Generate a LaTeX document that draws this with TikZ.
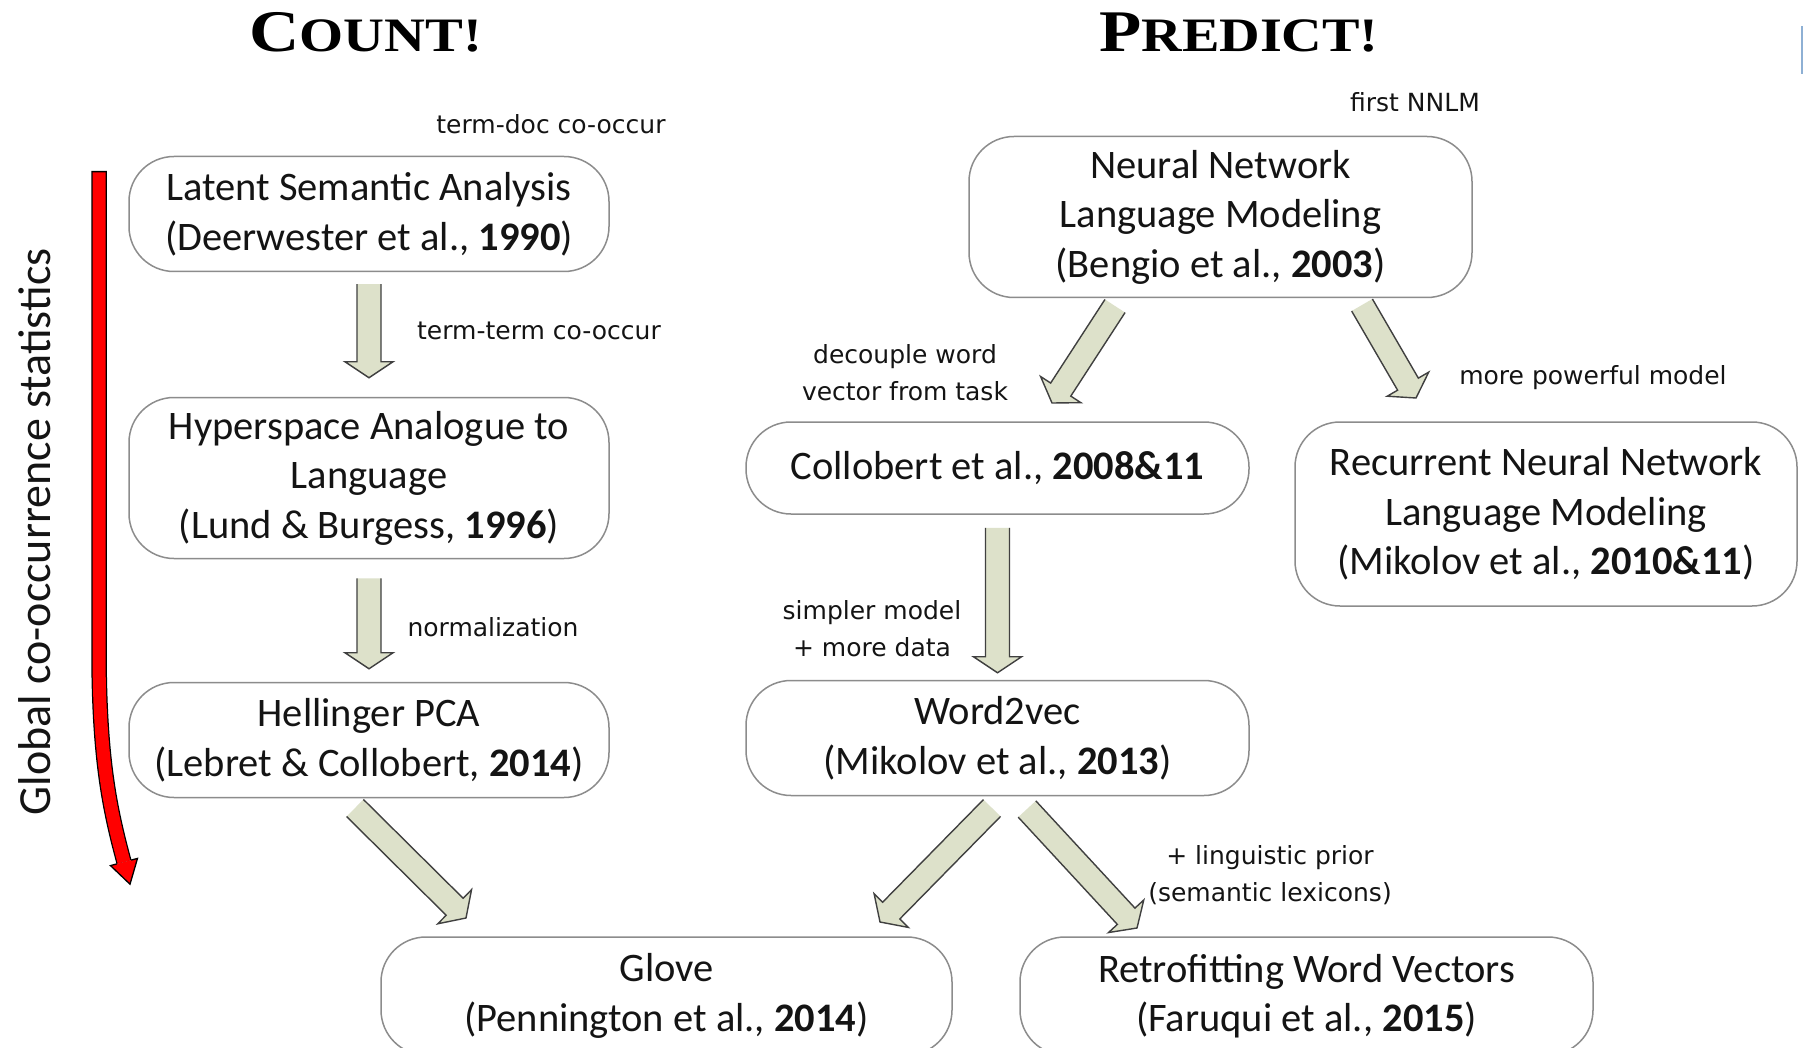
\documentclass[tikz,border=0pt]{standalone}
\usepackage{fontspec}
\usepackage{graphicx}
\setmainfont{Carlito}
\newfontfamily\lblfont{DejaVu Sans}
\newfontfamily\titlefont{Liberation Serif}
\usetikzlibrary{calc}
\definecolor{arrowfill}{RGB}{221,225,202}
\definecolor{boxline}{RGB}{140,140,140}
\definecolor{txt}{RGB}{20,20,20}
\definecolor{sidebar}{RGB}{142,176,212}

\newcommand\blockarrow[2]{%
  \path ($(#2)!16pt!(#1)$) coordinate (hb);
  \path[fill=arrowfill, draw=black!75, line width=1.4pt, line join=miter]
    ($(#1)!12pt!90:(#2)$) -- ($(hb)!12pt!-90:(#1)$) -- ($(hb)!24pt!-90:(#1)$) -- (#2)
    -- ($(hb)!24pt!90:(#1)$) -- ($(hb)!12pt!90:(#1)$) -- ($(#1)!12pt!-90:(#2)$);
}

\tikzset{
  box/.style={draw=boxline, line width=1.5pt, rounded corners=45pt, fill=white,
    inner sep=0pt, align=center, text=txt, font=\fontsize{40.5}{49.5}\selectfont},
  lbl/.style={font=\lblfont\fontsize{25}{37}\selectfont, align=center, text=txt, inner sep=0pt},
  ttl/.style={anchor=base, text=black, inner sep=0pt}
}

\begin{document}
\begin{tikzpicture}[x=1pt, y=-1pt]
\useasboundingbox (0,0) rectangle (1803,1048);
\fill[white] (0,0) rectangle (1803,1048);
\fill[sidebar] (1801,26) rectangle (1803,74);

% titles
\node[ttl] (count) at (366,52) {\titlefont\bfseries\scalebox{1.18}[1]{\fontsize{59}{60}\selectfont C\fontsize{48}{50}\selectfont OUNT!}};
\node[ttl] (predict) at (1239,52) {\titlefont\bfseries\scalebox{1.17}[1]{\fontsize{59}{60}\selectfont P\fontsize{48}{50}\selectfont REDICT!}};

% left column
\node[box, minimum width=480pt, minimum height=115pt] (lsa) at (369,214) {Latent Semantic Analysis\\(Deerwester et al., \textbf{1990})};
\node[box, minimum width=480pt, minimum height=161pt] (hal) at (369,478) {Hyperspace Analogue to\\Language\\(Lund \& Burgess, \textbf{1996})};
\node[box, minimum width=480pt, minimum height=115pt] (hel) at (369,740) {Hellinger PCA\\(Lebret \& Collobert, \textbf{2014})};

% right column
\node[box, minimum width=503pt, minimum height=161pt] (nnlm) at (1220.5,217) {Neural Network\\Language Modeling\\(Bengio et al., \textbf{2003})};
\node[box, minimum width=503pt, minimum height=92pt] (col) at (997.5,468) {Collobert et al., \textbf{2008\&11}};
\node[box, minimum width=502pt, minimum height=184pt] (rnn) at (1546,514) {Recurrent Neural Network\\Language Modeling\\(Mikolov et al., \textbf{2010\&11})};
\node[box, minimum width=503pt, minimum height=115pt] (w2v) at (997.5,738) {Word2vec\\(Mikolov et al., \textbf{2013})};

% bottom
\node[box, minimum width=571pt, minimum height=118pt] (glove) at (666.5,996) {Glove\\(Pennington et al., \textbf{2014})};
\node[box, minimum width=573pt, minimum height=118pt] (retro) at (1306.5,996) {Retrofitting Word Vectors\\(Faruqui et al., \textbf{2015})};

% labels
\node[lbl] (l1) at (551,124) {term-doc co-occur};
\node[lbl] (l2) at (539,331) {term-term co-occur};
\node[lbl] (l3) at (493,627) {normalization};
\node[lbl] (l4) at (1415,102) {first NNLM};
\node[lbl] (l5) at (905,373) {decouple word\\vector from task};
\node[lbl] (l6) at (1593,378) {more powerful model};
\node[lbl] (l7) at (872,629) {simpler model\\+ more data};
\node[lbl] (l8) at (1270,875) {+ linguistic prior\\(semantic lexicons)};

\node[rotate=90, inner sep=0pt, text=txt, font=\fontsize{46}{50}\selectfont] (glob) at (35,532) {Global co-occurrence statistics};

% block arrow end points
\coordinate (a1s) at ($(lsa.south)+(0,12)$);
\coordinate (a1e) at ($(hal.north)+(0,-19)$);
\coordinate (a2s) at ($(hal.south)+(0,19)$);
\coordinate (a2e) at ($(hel.north)+(0,-13)$);
\coordinate (a3s) at (355,808);
\coordinate (a3e) at (466,918);
\coordinate (a4s) at (1115,306);
\coordinate (a4e) at (1052,403);
\coordinate (a5s) at (1362,305);
\coordinate (a5e) at (1416,398);
\coordinate (a6s) at ($(col.south)+(0,13)$);
\coordinate (a6e) at ($(w2v.north)+(0,-7)$);
\coordinate (a7s) at (992,808);
\coordinate (a7e) at (880,922);
\coordinate (a8s) at (1027,809);
\coordinate (a8e) at (1137,928);

\blockarrow{a1s}{a1e}
\blockarrow{a2s}{a2e}
\blockarrow{a3s}{a3e}
\blockarrow{a4s}{a4e}
\blockarrow{a5s}{a5e}
\blockarrow{a6s}{a6e}
\blockarrow{a7s}{a7e}
\blockarrow{a8s}{a8e}

% red arrow
\draw[black, line width=15.5pt] (99,171) -- (99,650) .. controls (99,760) and (110,810) .. (124,862);
\draw[red, line width=13pt, shorten <=1.3pt] (99,171) -- (99,650) .. controls (99,760) and (110,810) .. (124,862);
\path[fill=red, draw=black, line width=1.3pt, line join=miter] (131.2,860.1) -- (137.5,858.4) -- (130,884.2) -- (110.5,865.6) -- (116.8,863.9);
\end{tikzpicture}
\end{document}
